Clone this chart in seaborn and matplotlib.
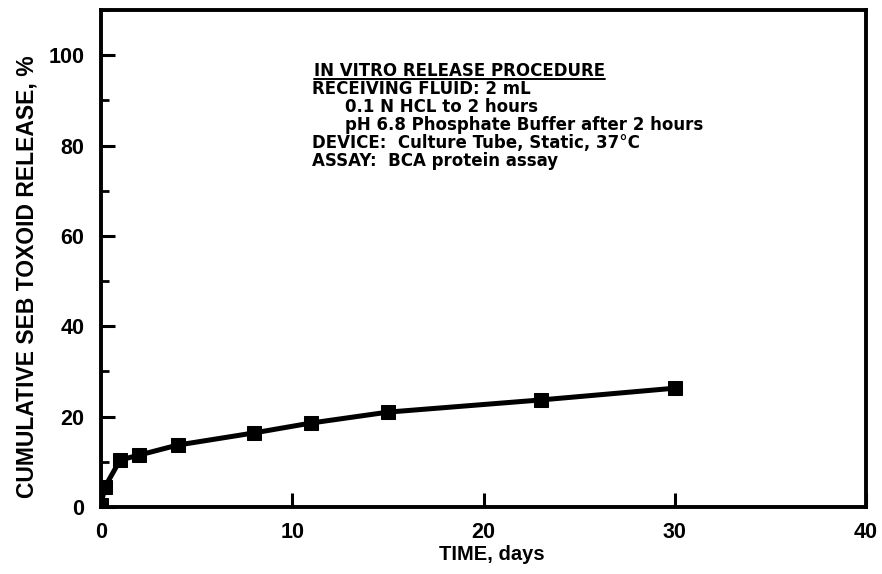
import matplotlib
matplotlib.use("Agg")
import matplotlib.pyplot as plt
from matplotlib.lines import Line2D
from matplotlib.ticker import MultipleLocator
import seaborn as sns
import pandas as pd

# Cumulative SEB toxoid release over time
time_days = [0, 0.2, 1, 2, 4, 8, 11, 15, 23, 30]
release_pct = [0.5, 4.4, 10.4, 11.5, 13.7, 16.4, 18.6, 21.0, 23.7, 26.3]

x_ticks = [0, 10, 20, 30, 40]
y_ticks = [0, 20, 40, 60, 80, 100]

procedure_title = "IN VITRO RELEASE PROCEDURE"
procedure_lines = [
    ("RECEIVING FLUID: 2 mL", 0),
    ("0.1 N HCL to 2 hours", 1),
    ("pH 6.8 Phosphate Buffer after 2 hours", 1),
    ("DEVICE:  Culture Tube, Static, 37\u00b0C", 0),
    ("ASSAY:  BCA protein assay", 0),
]

sns.set_theme(style="white")
plt.rcParams["font.family"] = ["Liberation Sans", "DejaVu Sans"]
plt.rcParams["font.weight"] = "bold"
plt.rcParams["text.color"] = "black"
plt.rcParams["axes.labelcolor"] = "black"
plt.rcParams["xtick.color"] = "black"
plt.rcParams["ytick.color"] = "black"

df = pd.DataFrame({"time": time_days, "release": release_pct})

fig = plt.figure(figsize=(8.82, 5.74), dpi=100)
ax = fig.add_axes([0.1145, 0.1167, 0.8675, 0.8659])

sns.lineplot(data=df, x="time", y="release", ax=ax, color="black",
             linewidth=3.6, marker="s", markersize=10,
             markeredgecolor="black", markerfacecolor="black")

ax.set_xlim(0, 40)
ax.set_ylim(0, 110)
ax.set_xticks(x_ticks)
ax.set_yticks(y_ticks)
ax.yaxis.set_minor_locator(MultipleLocator(10))

for sp in ax.spines.values():
    sp.set_color("black")
    sp.set_linewidth(2.8)

ax.tick_params(axis="both", which="major", direction="in", length=10,
               width=2.2, labelsize=15.5, colors="black",
               left=True, bottom=True)
ax.tick_params(axis="y", which="major", pad=12)
ax.tick_params(axis="x", which="major", pad=11)
ax.tick_params(axis="y", which="minor", direction="in", length=6,
               width=2.0, left=True)
ax.tick_params(axis="x", which="minor", bottom=False)
for lbl in ax.get_xticklabels() + ax.get_yticklabels():
    lbl.set_fontweight("bold")

ax.set_xlabel("TIME, days", fontsize=14.5, fontweight="bold")
ax.set_ylabel("CUMULATIVE SEB TOXOID RELEASE, %", fontsize=16.5,
              fontweight="bold")
ax.xaxis.set_label_coords(0.511, -0.077)
ax.yaxis.set_label_coords(-0.082, 0.463)

# Procedure notes block
note_font = dict(fontsize=12, fontweight="bold", family="DejaVu Sans",
                 va="baseline")
x0 = 0.276
y0 = 0.831
dy = 0.0362
title_txt = ax.text(x0 + 0.002, y0 + dy, procedure_title,
                    transform=ax.transAxes, **note_font)
for i, (line, indent) in enumerate(procedure_lines):
    ax.text(x0 + indent * 0.043, y0 - i * dy, line,
            transform=ax.transAxes, **note_font)

# underline the block heading
fig.canvas.draw()
bb = title_txt.get_window_extent().transformed(fig.transFigure.inverted())
fig.add_artist(Line2D([bb.x0, bb.x1], [bb.y0 + 0.001, bb.y0 + 0.001],
                      transform=fig.transFigure, color="black", linewidth=1.4))

fig.savefig("out.png", dpi=100)
